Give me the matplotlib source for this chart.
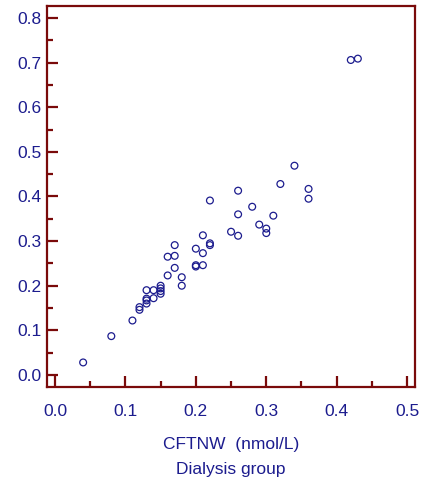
import matplotlib
matplotlib.use("Agg")
import matplotlib.pyplot as plt
from matplotlib.ticker import MultipleLocator

# CFTNW vs second measure, dialysis group
cftnw = [0.04, 0.08, 0.11, 0.12, 0.12, 0.13, 0.13, 0.13, 0.13, 0.14, 0.14,
         0.15, 0.15, 0.15, 0.15, 0.16, 0.16, 0.17, 0.17, 0.17, 0.18, 0.18,
         0.20, 0.20, 0.20, 0.21, 0.21, 0.21, 0.22, 0.22, 0.22, 0.25, 0.26,
         0.26, 0.26, 0.28, 0.29, 0.30, 0.30, 0.31, 0.32, 0.34, 0.36, 0.36,
         0.42, 0.43]
yvals = [0.028, 0.087, 0.122, 0.152, 0.146, 0.190, 0.171, 0.167, 0.160, 0.190, 0.172,
         0.200, 0.194, 0.188, 0.182, 0.223, 0.265, 0.291, 0.267, 0.240, 0.219, 0.200,
         0.283, 0.246, 0.243, 0.313, 0.273, 0.246, 0.391, 0.295, 0.291, 0.321, 0.360,
         0.312, 0.413, 0.377, 0.337, 0.328, 0.318, 0.357, 0.428, 0.469, 0.417, 0.395,
         0.706, 0.709]

navy = '#1c1c8e'
maroon = '#7a0a0a'

plt.rcParams['font.family'] = ['Liberation Sans Narrow', 'Liberation Sans', 'DejaVu Sans']

fig = plt.figure(figsize=(4.34, 4.88), dpi=100)
ax = fig.add_axes([0.1083, 0.207, 0.8477, 0.7807])

ax.scatter(cftnw, yvals, s=24, facecolors='none', edgecolors=navy, linewidths=0.9)

ax.set_xlim(-0.0113, 0.511)
ax.set_ylim(-0.027, 0.827)

ax.xaxis.set_major_locator(MultipleLocator(0.1))
ax.xaxis.set_minor_locator(MultipleLocator(0.05))
ax.yaxis.set_major_locator(MultipleLocator(0.1))
ax.yaxis.set_minor_locator(MultipleLocator(0.05))
ax.xaxis.set_major_formatter(plt.FormatStrFormatter('%.1f'))
ax.yaxis.set_major_formatter(plt.FormatStrFormatter('%.1f'))

for s in ax.spines.values():
    s.set_color(maroon)
    s.set_linewidth(1.6)

ax.tick_params(which='both', direction='in', color=maroon, width=1.6,
               labelcolor=navy, labelsize=12.5, top=False, right=False)
ax.tick_params(which='major', length=8)
ax.tick_params(which='minor', length=4)
ax.tick_params(axis='x', pad=12)
ax.tick_params(axis='y', pad=4)

ax.set_xlabel("CFTNW  (nmol/L)\nDialysis group", color=navy, fontsize=12.5,
              labelpad=13, linespacing=1.85)

fig.savefig("out.png", dpi=100)
